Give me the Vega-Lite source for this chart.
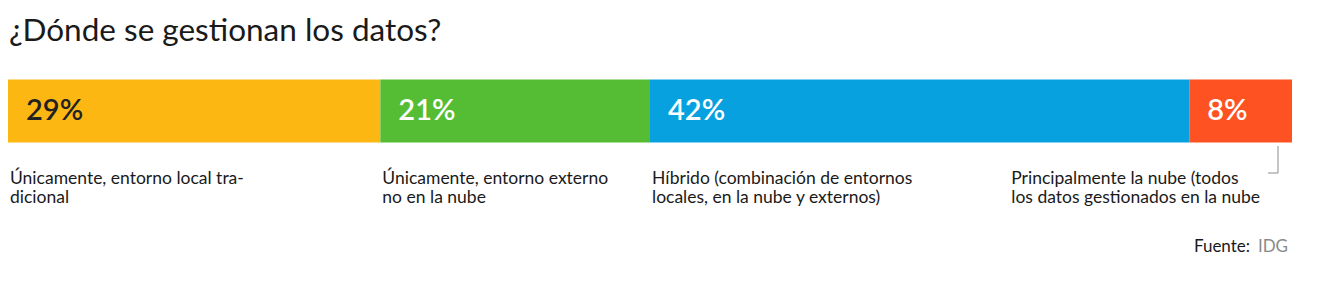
{
  "$schema": "https://vega.github.io/schema/vega-lite/v6.json",
  "autosize": "none",
  "width": 1284,
  "height": 70,
  "padding": {"left": 8, "top": 76, "right": 43, "bottom": 146},
  "background": "white",
  "config": {"view": {"stroke": null}, "font": "Lato"},
  "title": {
    "text": "¿Dónde se gestionan los datos?",
    "anchor": "start",
    "fontSize": 31.5,
    "fontWeight": "normal",
    "color": "#1a1a1a",
    "font": "Lato",
    "baseline": "bottom",
    "offset": 27,
    "dy": 30,
    "dx": 1
  },
  "datasets": {
    "segments": [
      {"order": 1, "category": "Únicamente, entorno local tradicional", "pct": 29, "pctLabel": "29%", "label": "Únicamente, entorno local tra-\ndicional"},
      {"order": 2, "category": "Únicamente, entorno externo no en la nube", "pct": 21, "pctLabel": "21%", "label": "Únicamente, entorno externo\nno en la nube"},
      {"order": 3, "category": "Híbrido", "pct": 42, "pctLabel": "42%", "label": "Híbrido (combinación de entornos\nlocales, en la nube y externos)"},
      {"order": 4, "category": "Principalmente la nube", "pct": 8, "pctLabel": "8%", "label": "Principalmente la nube (todos\nlos datos gestionados en la nube"}
    ],
    "source": [{"prefix": "Fuente:", "name": "IDG", "pos": 100}]
  },
  "data": {"name": "segments"},
  "transform": [
    {"stack": "pct", "groupby": [], "sort": [{"field": "order", "order": "ascending"}], "as": ["x0", "x1"]}
  ],
  "layer": [
    {
      "mark": {"type": "bar"},
      "encoding": {
        "x": {"field": "x0", "type": "quantitative", "scale": {"domain": [0, 100], "nice": false, "zero": true}, "axis": null},
        "x2": {"field": "x1"},
        "color": {
          "field": "category",
          "type": "nominal",
          "scale": {
            "domain": ["Únicamente, entorno local tradicional", "Únicamente, entorno externo no en la nube", "Híbrido", "Principalmente la nube"],
            "range": ["#FDB713", "#54BD34", "#08A1E0", "#FF5223"]
          },
          "legend": null
        }
      }
    },
    {
      "mark": {"type": "text", "align": "left", "baseline": "alphabetic", "y": {"expr": "height"}, "dy": -26, "dx": 18, "fontSize": 29, "fontWeight": 600},
      "encoding": {
        "x": {"field": "x0", "type": "quantitative"},
        "text": {"field": "pctLabel"},
        "color": {"condition": {"test": "datum.order == 1", "value": "#222222"}, "value": "#ffffff"}
      }
    },
    {
      "transform": [{"filter": "datum.order < 4"}],
      "mark": {"type": "text", "align": "left", "baseline": "alphabetic", "y": {"expr": "height"}, "dy": 38, "dx": 2, "fontSize": 17.5, "lineBreak": "\n", "lineHeight": 19, "color": "#1a1a1a"},
      "encoding": {
        "x": {"field": "x0", "type": "quantitative"},
        "text": {"field": "label"}
      }
    },
    {
      "transform": [{"filter": "datum.order == 4"}],
      "mark": {"type": "text", "align": "left", "baseline": "alphabetic", "y": {"expr": "height"}, "dy": 38, "dx": -178, "fontSize": 17.5, "lineBreak": "\n", "lineHeight": 19, "color": "#1a1a1a"},
      "encoding": {
        "x": {"field": "x0", "type": "quantitative"},
        "text": {"field": "label"}
      }
    },
    {
      "transform": [{"filter": "datum.order == 4"}],
      "mark": {"type": "rule", "y": {"expr": "height"}, "y2": {"expr": "height + 27"}, "xOffset": -14, "color": "#8c8c8c", "strokeWidth": 1},
      "encoding": {
        "x": {"field": "x1", "type": "quantitative"}
      }
    },
    {
      "transform": [{"filter": "datum.order == 4"}],
      "mark": {"type": "rule", "y": {"expr": "height + 27"}, "xOffset": -24, "x2Offset": -14, "color": "#8c8c8c", "strokeWidth": 1},
      "encoding": {
        "x": {"field": "x1", "type": "quantitative"},
        "x2": {"field": "x1"}
      }
    },
    {
      "data": {"name": "source"},
      "mark": {"type": "text", "align": "right", "baseline": "alphabetic", "y": {"expr": "height"}, "dy": 106, "dx": -4, "fontSize": 17, "color": "#8a8a8a"},
      "encoding": {
        "x": {"field": "pos", "type": "quantitative"},
        "text": {"field": "name"}
      }
    },
    {
      "data": {"name": "source"},
      "mark": {"type": "text", "align": "right", "baseline": "alphabetic", "y": {"expr": "height"}, "dy": 106, "dx": -42, "fontSize": 17, "color": "#1a1a1a"},
      "encoding": {
        "x": {"field": "pos", "type": "quantitative"},
        "text": {"field": "prefix"}
      }
    }
  ]
}
